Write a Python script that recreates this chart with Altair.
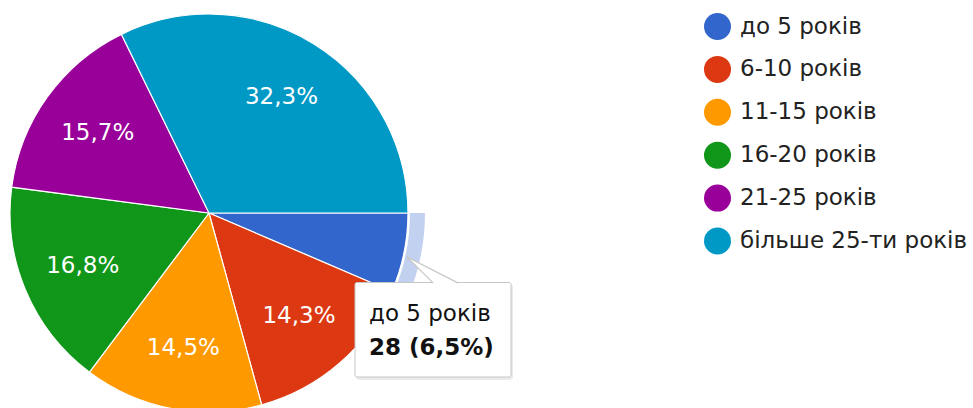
import math
import altair as alt
import pandas as pd

categories = ["до 5 років", "6-10 років", "11-15 років", "16-20 років", "21-25 років", "більше 25-ти років"]
counts = [28, 62, 63, 73, 68, 140]
colors = ["#3366cc", "#dc3912", "#ff9900", "#109618", "#990099", "#0099c6"]

total = sum(counts)
pcts = [f"{c / total * 100:.1f}%".replace(".", ",") for c in counts]
labels = [""] + pcts[1:]  # smallest slice has no inner label
df = pd.DataFrame({
    "cat": categories,
    "count": counts,
    "idx": list(range(len(categories))),
    "pct": pcts,
    "label": labels,
    "tip": [f"{c} ({p})" for c, p in zip(counts, pcts)],
})

FONT = "DejaVu Sans"
FS = 23
CX, CY, R = 209, 213, 199

theta = alt.Theta("count:Q", stack=True,
                  scale=alt.Scale(range=[math.pi / 2, math.pi / 2 + 2 * math.pi]))
order = alt.Order("idx:Q", sort="ascending")

base = alt.Chart(df).encode(theta=theta, order=order,
                            x=alt.value(CX), y=alt.value(CY))

ring = base.mark_arc(radius=216, radius2=201, strokeWidth=0).encode(
    fill=alt.condition(alt.datum.cat == categories[0], alt.value("#c2d1f0"), alt.value("transparent"))
)

pie = base.mark_arc(radius=R, stroke="white", strokeWidth=1.2).encode(
    color=alt.Color("cat:N", sort=categories,
                    scale=alt.Scale(domain=categories, range=colors),
                    legend=alt.Legend(orient="none", legendX=704, legendY=13, title=None,
                                      symbolType="circle", symbolSize=729, symbolStrokeWidth=0,
                                      symbolOpacity=1,
                                      labelFontSize=FS, labelFont=FONT, labelColor="#222222",
                                      rowPadding=15.9, labelOffset=9, padding=0, labelLimit=400))
)

text = base.mark_text(radius=137, fontSize=FS, font=FONT, color="white",
                      align="center", baseline="middle").encode(text="label:N")

tipdata = alt.Chart(df).transform_filter(alt.datum.idx == 0)

shadow = tipdata.mark_rect(fill="#000000", opacity=0.08, cornerRadius=3).encode(
    x=alt.value(356), x2=alt.value(513), y=alt.value(284), y2=alt.value(380))
box = tipdata.mark_rect(fill="white", stroke="#c6c6c6", strokeWidth=1, cornerRadius=2).encode(
    x=alt.value(355), x2=alt.value(511), y=alt.value(282.5), y2=alt.value(377))
pointer = tipdata.mark_point(shape="M-12.2,0.6 L-38.8,-25.8 L12.8,0.6", size=4, filled=True,
                             fill="white", stroke="#c6c6c6", strokeWidth=1.2, opacity=1).encode(
    x=alt.value(445.5), y=alt.value(282.5))
tip1 = tipdata.mark_text(align="left", baseline="alphabetic", fontSize=FS, font=FONT,
                         color="#111111").encode(x=alt.value(369), y=alt.value(321), text="cat:N")
tip2 = tipdata.mark_text(align="left", baseline="alphabetic", fontSize=FS, font=FONT,
                         fontWeight="bold", color="#111111").encode(
    x=alt.value(369), y=alt.value(355), text="tip:N")

chart = alt.layer(ring, pie, text, shadow, box, pointer, tip1, tip2).properties(
    width=973, height=408, autosize=alt.AutoSizeParams(type="none"), padding=0,
    background="white"
).configure_view(stroke=None)

chart.save("out.html", embed_options={"renderer": "svg", "actions": False})
